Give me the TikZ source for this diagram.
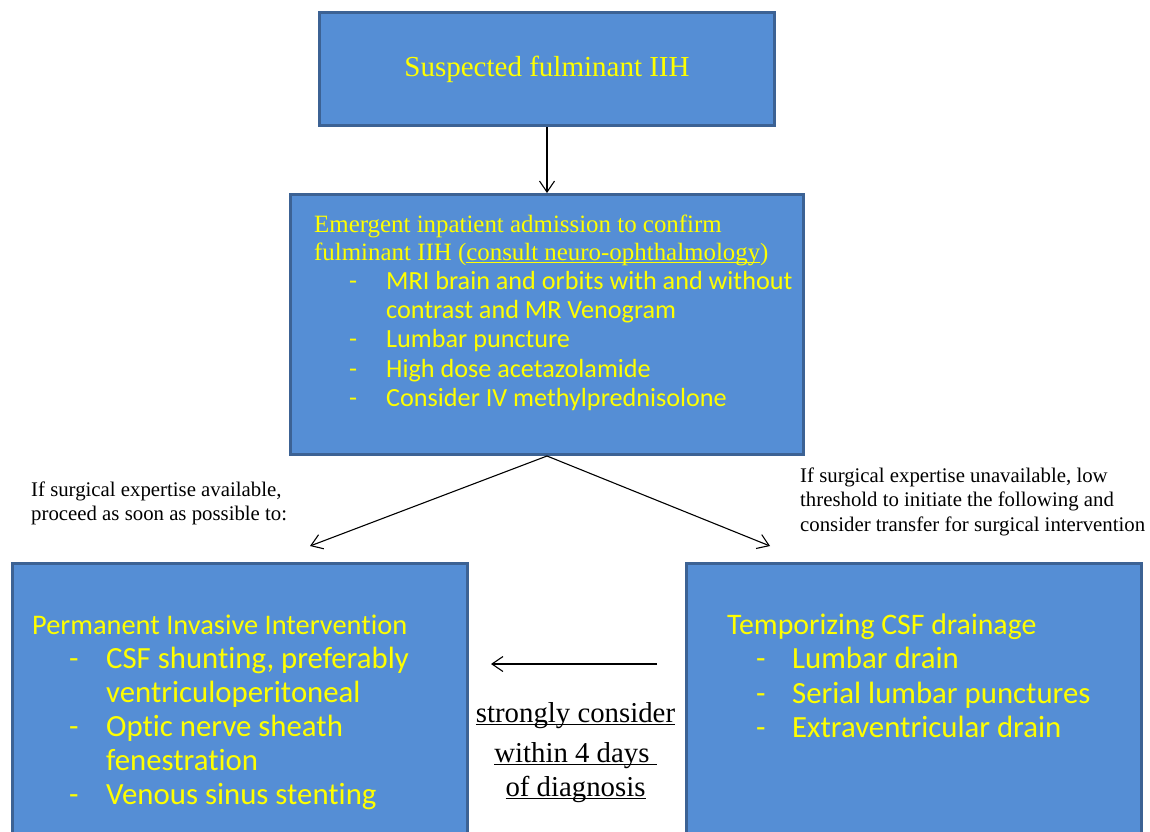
\documentclass[tikz,border=0pt]{standalone}
\usepackage{fontspec}
\usepackage{tikz}
\usetikzlibrary{arrows.meta}
\setmainfont{Liberation Serif}
\newfontfamily\calibri[Ligatures=NoCommon]{Carlito}
\definecolor{boxfill}{RGB}{85,142,213}
\definecolor{boxline}{RGB}{60,98,148}
\definecolor{boxtext}{RGB}{255,255,0}
\newcommand{\itemdash}[2]{\hspace*{#1}\makebox[#2][l]{-}}
\newsavebox{\ulbox}
\newcommand{\ulined}[1]{\sbox{\ulbox}{#1}\rlap{\rule[-3pt]{\wd\ulbox}{1.2pt}}\usebox{\ulbox}}

\begin{document}
\begin{tikzpicture}[x=1pt,y=-1pt,>={Straight Barb[length=11pt,width=15pt]}]
\tikzstyle{Block}=[draw=boxline, fill=boxfill, line width=3pt, anchor=north west, inner sep=0pt];
\tikzstyle{Inside}=[text=boxtext, anchor=north west, inner sep=0pt];
\tikzstyle{Note}=[anchor=north west, inner sep=0pt, align=left, font=\fontsize{20.8}{23.8}\selectfont];
\tikzstyle{seq} = [->, line width=1.1pt];
\useasboundingbox (0,0) rectangle (1150,831);
\clip (0,0) rectangle (1150,831);
\node [Block, minimum width=455pt, minimum height=113pt, text=boxtext, font=\fontsize{29}{34}\selectfont] (suspect) at (318,11) {Suspected fulminant IIH};
\node [Block, minimum width=513pt, minimum height=260pt] (admit) at (289,193) {};
\draw [seq] (suspect) edge (admit);
\node [Inside] (admitText) at (314,215) {\parbox{520pt}{\fontsize{24.9}{27.3}\selectfont Emergent inpatient admission to confirm\\
fulminant IIH (\ulined{consult neuro-ophthalmology})\par
\calibri\fontsize{26.2}{29.3}\selectfont\itemdash{35pt}{37pt}MRI brain and orbits with and without\\
\hspace*{72pt}contrast and MR Venogram\\
\itemdash{35pt}{37pt}Lumbar puncture\\
\itemdash{35pt}{37pt}High dose acetazolamide\\
\itemdash{35pt}{37pt}Consider IV methylprednisolone}};
\node [Block, minimum width=455pt, minimum height=300pt] (perm) at (11,562) {};
\node [Block, minimum width=455pt, minimum height=300pt] (temp) at (685,562) {};
\node [Inside] (permText) at (32,614.8) {\parbox{430pt}{\calibri\fontsize{28.4}{34}\selectfont Permanent Invasive Intervention\\
\fontsize{30.8}{34}\selectfont\itemdash{37pt}{37pt}CSF shunting, preferably\\
\hspace*{74pt}ventriculoperitoneal\\
\itemdash{37pt}{37pt}Optic nerve sheath\\
\hspace*{74pt}fenestration\\
\itemdash{37pt}{37pt}Venous sinus stenting}};
\node [Inside] (tempText) at (727,613.5) {\parbox{410pt}{\calibri\fontsize{29.8}{34.3}\selectfont Temporizing CSF drainage\\
\fontsize{30.8}{34.3}\selectfont\itemdash{29pt}{36pt}Lumbar drain\\
\itemdash{29pt}{36pt}Serial lumbar punctures\\
\itemdash{29pt}{36pt}Extraventricular drain}};
\coordinate (toPerm) at (310,546);
\coordinate (toTemp) at (770,546);
\draw [seq] (admit.south) -- (toPerm);
\draw [seq] (admit.south) -- (toTemp);
\node [Note] (availL) at (31,481.8) {If surgical expertise available,\\
proceed as soon as possible to:};
\node [Note, font=\fontsize{20.8}{24.5}\selectfont] (availR) at (800,467.5) {If surgical expertise unavailable, low\\
threshold to initiate the following and\\
consider transfer for surgical intervention};
\coordinate (waitR) at (657,664);
\coordinate (waitL) at (491,664);
\draw [seq] (waitR) -- (waitL);
\node [anchor=north, inner sep=0pt, align=center, font=\fontsize{28.8}{34}\selectfont] (consider) at (575.5,702) {\ulined{strongly consider}\\[6pt]
\ulined{within 4 days\ }\\
\ulined{of diagnosis}};
\end{tikzpicture}
\end{document}
